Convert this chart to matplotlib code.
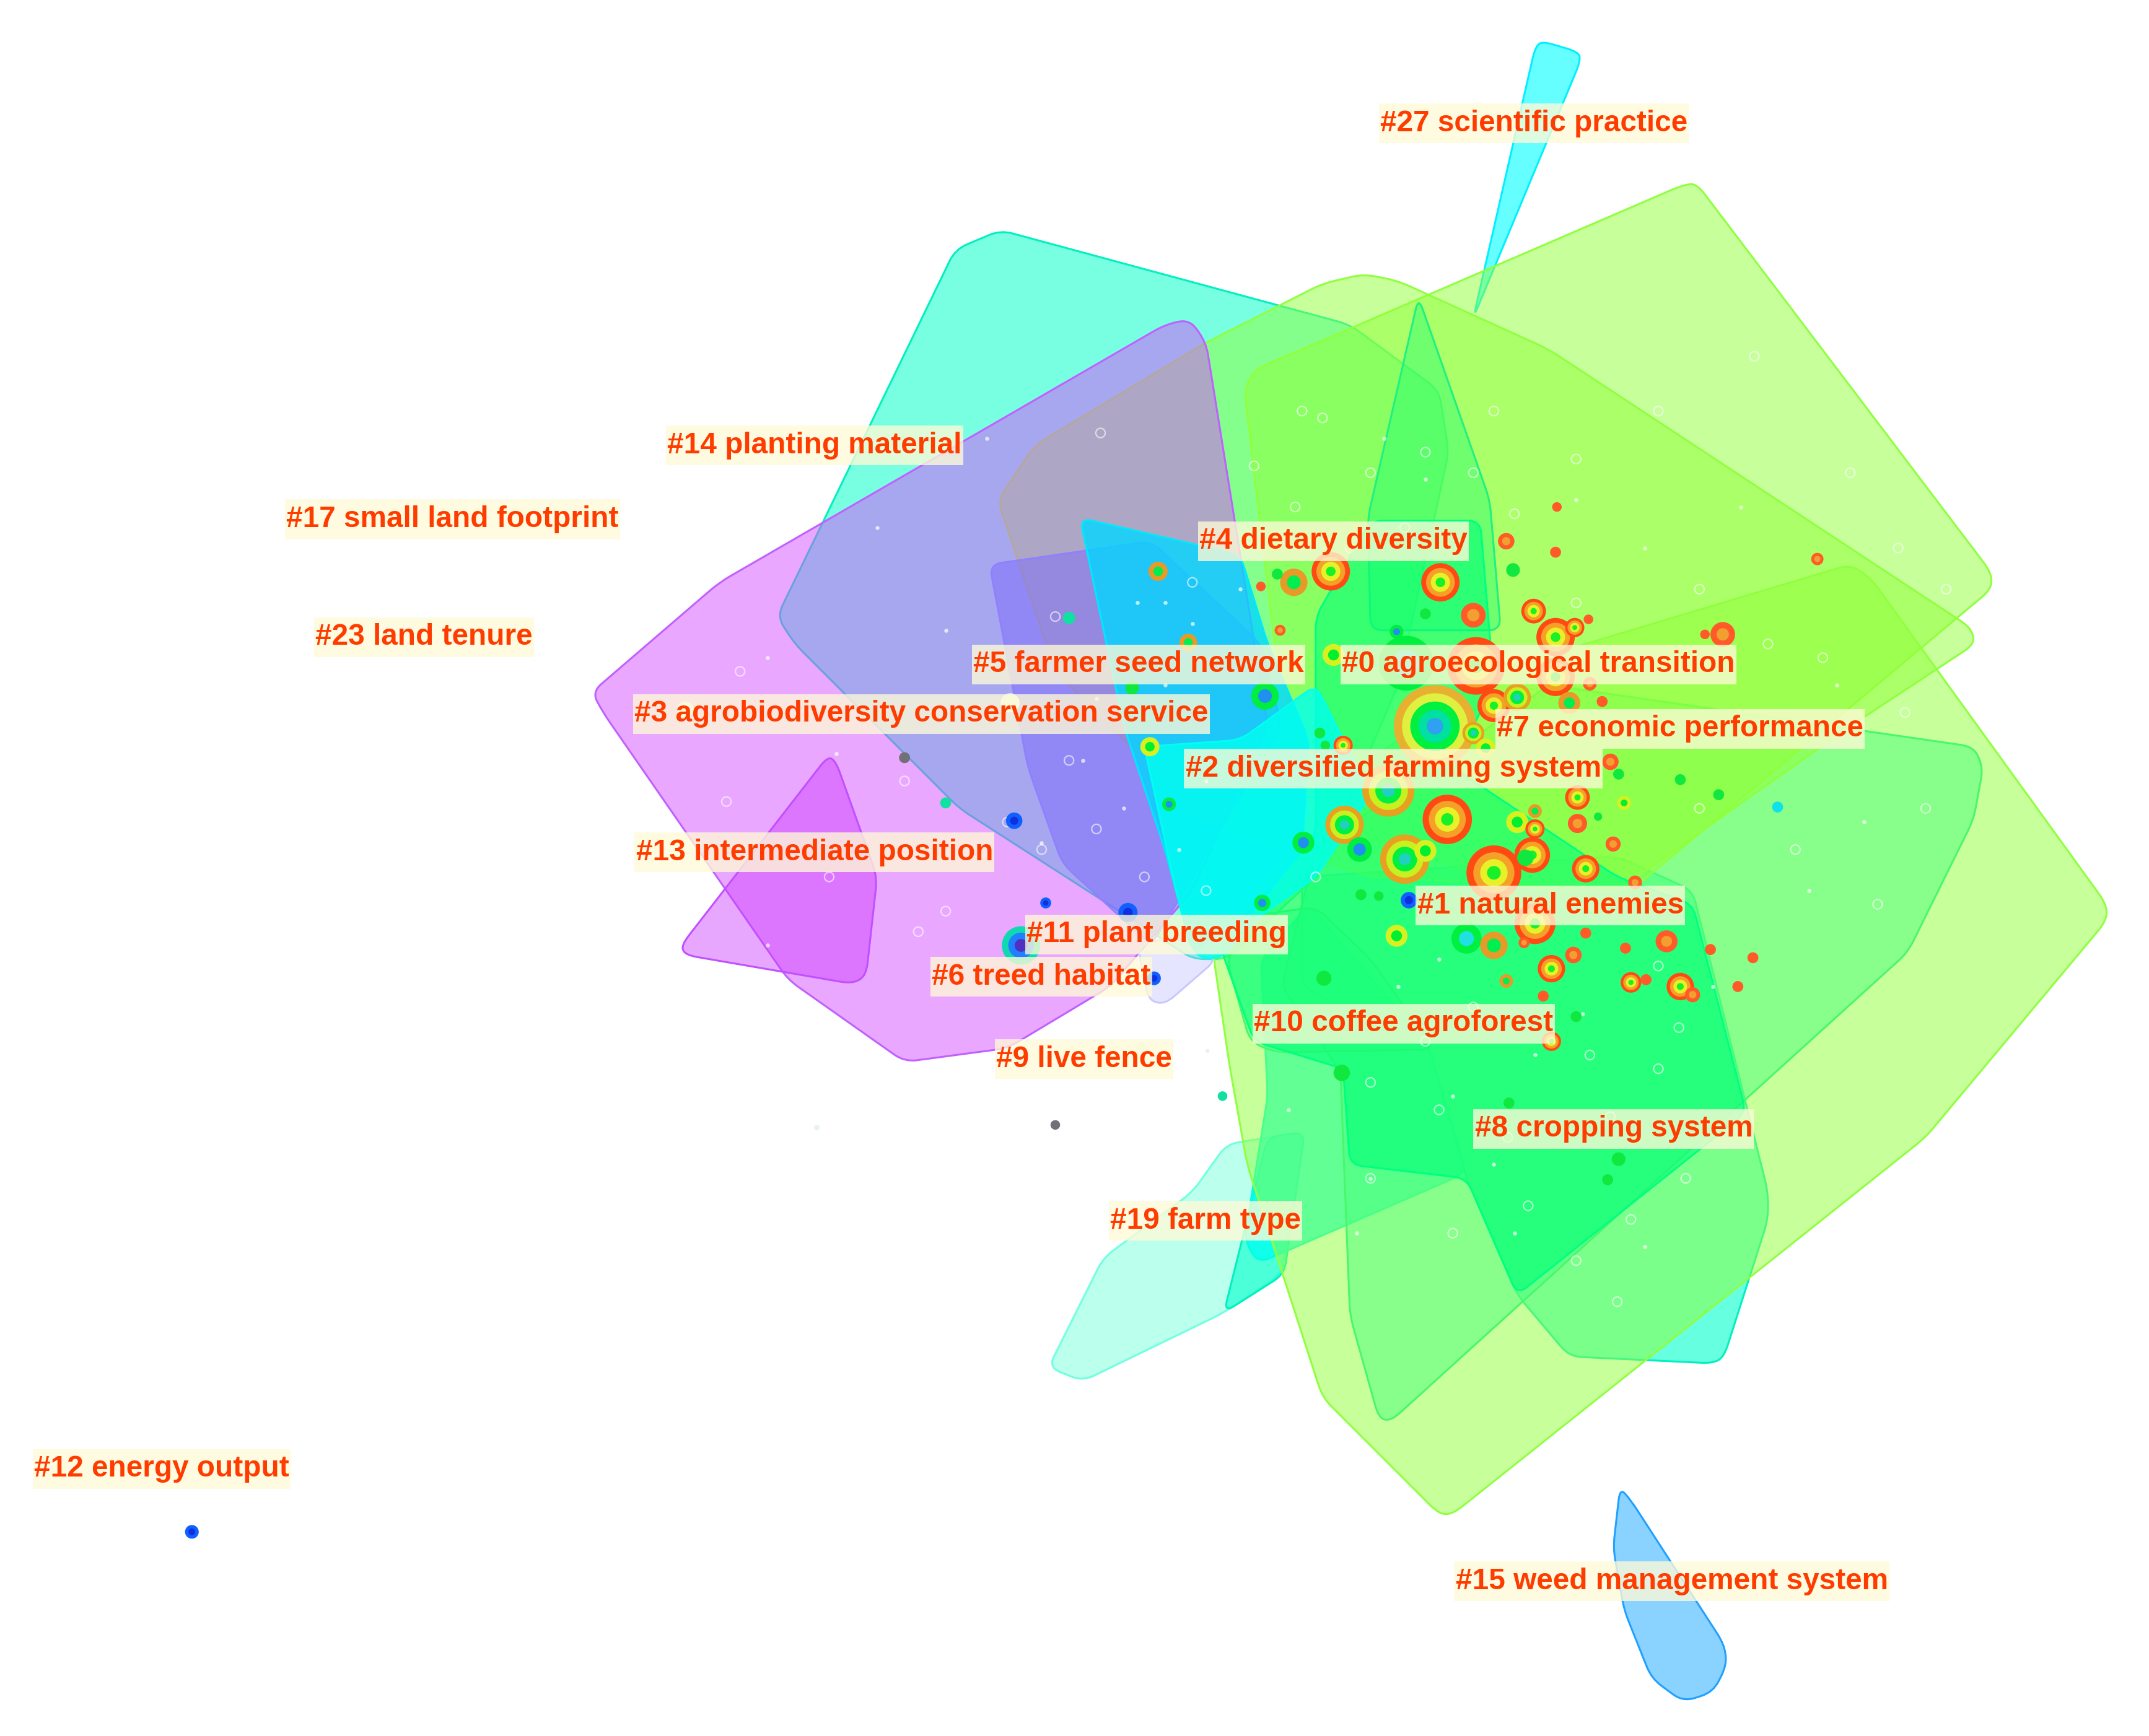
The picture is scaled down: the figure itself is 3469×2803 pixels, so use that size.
import matplotlib
matplotlib.use('Agg')
import matplotlib.pyplot as plt
from matplotlib.patches import Circle, PathPatch, Rectangle
from matplotlib.path import Path
import numpy as np

plt.rcParams['font.family'] = ['Liberation Sans', 'DejaVu Sans']

# cluster hulls (1568 x 1267 view)
teal_top = [(567, 450), (697, 182), (730, 168), (985, 237), (1050, 285), (1057, 330), (1020, 500),
            (960, 640), (895, 700), (870, 700), (840, 680), (700, 590), (580, 470)]
teal_low = [(950, 640), (1180, 625), (1235, 650), (1290, 870), (1290, 890), (1258, 990), (1250, 995),
            (1145, 990), (1107, 945), (1070, 860), (1043, 765), (950, 720)]
green_right = [(1130, 500), (1440, 545), (1447, 560), (1440, 598), (1392, 695), (1015, 1037), (1006, 1035),
               (985, 960), (978, 782), (935, 720), (960, 620)]
green_low = [(915, 668), (960, 662), (1000, 700), (1047, 766), (930, 768), (912, 760), (895, 700)]
green_left = [(955, 660), (1043, 765), (1070, 856), (918, 922), (908, 905), (925, 800), (920, 700)]
farm_light = [(765, 998), (790, 1008), (893, 958), (935, 930), (952, 826), (895, 835), (870, 870), (805, 918)]
farm_teal = [(893, 958), (937, 930), (952, 826), (925, 830)]
purple = [(432, 505), (440, 520), (575, 715), (660, 775), (735, 765), (810, 720), (870, 650), (925, 530),
          (880, 250), (868, 233), (850, 237), (525, 425)]
purple_small = [(604, 552), (610, 556), (640, 640), (632, 712), (622, 718), (500, 697), (497, 690)]
periwinkle = [(722, 412), (840, 395), (920, 470), (935, 530), (870, 640), (840, 690), (775, 630), (750, 560)]
lavender_low = [(838, 730), (850, 733), (888, 700), (870, 680), (830, 690)]
lime_top = [(1228, 135), (1238, 134), (1453, 418), (1453, 430), (1190, 650), (1120, 650), (960, 600),
            (930, 470), (908, 285), (915, 270)]
lime_mid = [(995, 200), (1020, 205), (1130, 255), (1438, 458), (1441, 470), (1350, 530), (1180, 650),
            (1000, 640), (880, 600), (770, 490), (728, 365), (755, 325), (880, 250), (965, 207)]
lime_big = [(1350, 412), (1365, 422), (1537, 660), (1537, 672), (1405, 830), (1060, 1105), (1050, 1105),
            (965, 1020), (910, 850), (897, 777), (885, 695), (975, 572), (1090, 490)]
spike = [(1035, 217), (1087, 365), (1095, 460), (1000, 460), (998, 378)]
core = [(960, 450), (1000, 380), (1080, 380), (1090, 500), (1060, 560), (1180, 640), (1235, 660),
        (1274, 812), (1107, 945), (1070, 860), (985, 850), (980, 780), (915, 760), (890, 690), (960, 610)]
cyan = [(788, 378), (905, 405), (925, 470), (955, 540), (950, 620), (915, 665), (870, 695), (850, 620), (820, 530)]
cyan_bright = [(835, 545), (905, 540), (960, 500), (1000, 580), (960, 640), (920, 668), (890, 700), (872, 698), (858, 650)]
sci_practice = [(1120, 35), (1125, 30), (1152, 38), (1153, 45), (1075, 232)]
weed = [(1182, 1086), (1190, 1095), (1258, 1200), (1260, 1215), (1250, 1235), (1228, 1242), (1205, 1225),
        (1185, 1175), (1177, 1130)]

hulls = [
    (teal_top, (30, 255, 205), 0.6, '#00f0c0'),
    (teal_low, (0, 255, 203), 0.6, '#00f0c0'),
    (sci_practice, (0, 255, 255), 0.6, '#00f0ff'),
    (farm_light, (60, 255, 205), 0.35, '#70ffe0'),
    (farm_teal, (0, 255, 203), 0.6, '#00f0c0'),
    (green_left, (0, 255, 240), 0.8, '#00ffe0'),
    (green_right, (0, 255, 190), 0.5, '#00f0a0'),
    (green_low, (0, 255, 190), 0.4, '#00f0a0'),
    (lime_top, (145, 255, 57), 0.5, '#90ff40'),
    (lime_mid, (145, 255, 57), 0.5, '#90ff40'),
    (lime_big, (145, 255, 57), 0.5, '#90ff40'),
    (purple, (215, 81, 255), 0.5, '#c060ff'),
    (purple_small, (205, 60, 255), 0.45, '#c050ff'),
    (lavender_low, (190, 190, 255), 0.4, '#c8c8ff'),
    (periwinkle, (120, 100, 255), 0.45, '#9080ff'),
    (spike, (0, 255, 120), 0.35, '#20f080'),
    (core, (0, 255, 120), 0.6, '#00ff80'),
    (cyan, (0, 215, 255), 0.8, '#00e8ff'),
    (cyan_bright, (0, 255, 240), 0.8, '#00fff0'),
    (weed, (60, 180, 255), 0.6, '#20a0ff'),
]

# citation rings, outer to inner
ring_sets = {
    'big': ['#e8b030', '#e0f040', '#00f040', '#00e0a0', '#30a0f0'],
    'rgy': ['#ff4a14', '#f5a028', '#e8f028', '#18f028'],
    'oyg': ['#e8a020', '#c8f020', '#00f040', '#20d0c0'],
    'or': ['#ff5a28', '#f0a030'],
    'red': ['#ff5a28'],
    'org': ['#e89a28', '#00ee50'],
    'yg': ['#d8f020', '#00f030'],
    'gb': ['#00ee40', '#2090f0'],
    'gc': ['#00f040', '#20e0e0'],
    'g': ['#10e840'],
    'b': ['#1060ff', '#1030e0'],
    'bc': ['#10d8b0', '#2080ff', '#5030c0'],
    'teal': ['#10e0a0'],
    'gray': ['#707078'],
    'cy': ['#10e0e8'],
    'pale': ['#e8f4e8'],
}

node_x = [971, 944, 1051, 1099, 1136, 1135, 1104, 1326, 1075, 1119, 1135, 1149, 1159, 1257, 1244, 845, 932, 920, 934,
          973, 1019, 1040, 1026, 867, 923, 826, 839, 1077, 1090, 1107, 1135, 1145, 1169, 1160, 1047, 1075, 1084, 980,
          963, 967, 1013, 1056, 981, 992, 951, 1025, 1040, 1090, 1118, 1113, 1107, 1120, 1120, 1151, 1151, 1175,
          1181, 1185, 1166, 1226, 1254, 1297, 1177, 1157, 1193, 993, 1006, 1028, 921, 1019, 1070, 1090, 1120, 1157,
          1216, 1186, 1248, 1279, 1148, 1132, 1112, 1190, 1201, 1226, 1235, 1268, 1099, 1126, 1150, 1132, 966,
          780, 660, 690, 740, 763, 823, 745, 842, 833, 892, 770, 979, 1101, 1181, 1173, 140, 853, 596, 881, 500, 737]
node_y = [417, 425, 425, 395, 370, 403, 416, 408, 449, 446, 465, 458, 452, 463, 463, 417, 419, 428, 460,
          478, 461, 448, 484, 469, 508, 502, 545, 486, 515, 509, 494, 513, 512, 499, 530, 535, 546, 544,
          535, 544, 577, 598, 602, 620, 615, 627, 621, 637, 624, 626, 600, 592, 605, 582, 601, 556,
          565, 586, 596, 569, 580, 589, 616, 634, 644, 653, 654, 657, 659, 683, 685, 690, 674, 681,
          687, 692, 693, 699, 697, 707, 688, 717, 715, 720, 726, 720, 716, 727, 742, 760, 714,
          451, 553, 586, 599, 659, 666, 690, 714, 766, 800, 821, 783, 805, 846, 861, 1118, 587, 823, 767, 518, 513]
node_r = [14, 10, 14, 6, 3.5, 4, 5, 4.5, 9, 9, 14, 7, 3.5, 9, 3.5, 7, 4, 3.5, 4,
          8, 5, 4, 20, 6.5, 10, 5, 7, 21, 12, 10, 14, 8, 4, 5, 30, 8, 7, 7,
          4, 3.5, 19, 18, 14, 9, 8, 18, 8, 20, 13, 6, 8, 5, 7, 9, 7, 6,
          4, 5, 3, 4, 4, 4, 5.5, 10, 5, 4, 3.5, 6, 6, 8, 11, 10, 15, 4,
          8, 4, 4, 4, 6, 10, 4, 7.5, 4, 10, 5.5, 4, 5, 4, 4, 7, 5.5,
          4.5, 4, 4, 6, 4, 7, 14, 5, 5, 3.5, 3.5, 6, 4, 5, 4, 5, 5, 2, 1.5, 6, 7]
node_kind = ['rgy', 'org', 'rgy', 'or', 'red', 'red', 'g', 'or', 'or', 'rgy', 'rgy', 'rgy', 'red', 'or', 'red', 'org', 'g', 'red', 'or',
             'yg', 'gb', 'g', 'gc', 'org', 'gb', 'g', 'yg', 'rgy', 'rgy', 'oyg', 'rgy', 'org', 'red', 'or', 'big', 'oyg', 'yg', 'rgy',
             'g', 'g', 'oyg', 'rgy', 'oyg', 'gb', 'gb', 'oyg', 'yg', 'rgy', 'rgy', 'g', 'yg', 'org', 'rgy', 'rgy', 'or', 'or',
             'g', 'yg', 'g', 'g', 'g', 'cy', 'or', 'rgy', 'or', 'g', 'g', 'b', 'gb', 'yg', 'gc', 'org', 'rgy', 'red',
             'or', 'red', 'red', 'red', 'or', 'rgy', 'or', 'rgy', 'red', 'rgy', 'or', 'red', 'org', 'red', 'g', 'rgy', 'g',
             'teal', 'gray', 'teal', 'b', 'b', 'b', 'bc', 'b', 'pale', 'teal', 'gray', 'g', 'g', 'g', 'g', 'b', 'gb', 'pale', 'pale', 'pale', 'pale']

# small hollow white nodes spread over the hulls
hollow_x = [803, 950, 1000, 985, 1025, 1075, 1105, 1150, 1210, 1280, 1350, 1385, 1420, 915, 945, 965, 1040, 1090, 1150, 1240,
            1290, 1330, 1390, 1240, 1310, 1370, 1405, 660, 605, 540, 530, 770, 870, 880, 835, 800, 760, 735, 670, 690,
            780, 1000, 1050, 1100, 1160, 1210, 1115, 1060, 1000, 1150, 1190, 1230, 1130, 1075, 1040, 1175, 1225, 960, 1180, 1210]
hollow_y = [316, 300, 345, 400, 385, 345, 375, 335, 300, 260, 345, 400, 430, 340, 370, 305, 330, 300, 440, 430,
            470, 480, 520, 590, 620, 660, 590, 570, 640, 490, 585, 450, 425, 650, 640, 605, 620, 600, 680, 665,
            555, 790, 810, 830, 770, 780, 880, 900, 860, 920, 890, 860, 710, 735, 760, 815, 750, 640, 950, 705]
dot_x = [640, 720, 690, 850, 870, 905, 830, 1010, 1040, 1150, 1200, 1270, 1340, 560, 610, 670, 790, 760, 560, 610,
         1020, 1060, 1120, 1245, 1320, 1360, 1000, 1090, 990, 940, 860, 820, 800, 850, 880, 1200, 1105, 1155, 1250, 1050]
dot_y = [385, 320, 460, 500, 455, 430, 440, 320, 350, 365, 400, 370, 500, 480, 550, 625, 555, 615, 690, 750,
         720, 800, 770, 820, 650, 600, 860, 850, 900, 810, 620, 590, 510, 440, 570, 910, 900, 740, 720, 700]

label_text = ['#27 scientific practice', '#14 planting material', '#17 small land footprint', '#4 dietary diversity',
              '#23 land tenure', '#5 farmer seed network', '#0 agroecological transition',
              '#3 agrobiodiversity conservation service', '#7 economic performance', '#2 diversified farming system',
              '#13 intermediate position', '#1 natural enemies', '#11 plant breeding', '#6 treed habitat',
              '#10 coffee agroforest', '#9 live fence', '#8 cropping system', '#19 farm type', '#12 energy output',
              '#15 weed management system']
label_x = [1007, 487, 209, 875, 230, 710, 979, 463, 1092, 865, 464, 1034, 749, 680, 915, 727, 1076, 810, 25, 1062]
label_y = [90, 325, 379, 395, 465, 485, 485, 521, 532, 561, 622, 661, 682, 713, 747, 773, 824, 891, 1072, 1154]


def rounded_hull(pts, rad=9):
    # corners are cut with a short quadratic curve, like the blobs in the original
    pts = np.array(pts, dtype=float)
    n = len(pts)
    verts, codes = [], []
    for i in range(n):
        p, prev, nxt = pts[i], pts[i - 1], pts[(i + 1) % n]
        a = p + (prev - p) * min(rad / np.linalg.norm(prev - p), 0.45)
        b = p + (nxt - p) * min(rad / np.linalg.norm(nxt - p), 0.45)
        verts += [a, p, b]
        codes += [Path.MOVETO if i == 0 else Path.LINETO, Path.CURVE3, Path.CURVE3]
    verts.append(verts[0])
    codes.append(Path.CLOSEPOLY)
    return Path(verts, codes)


fig = plt.figure(figsize=(34.69, 28.03), dpi=100)
ax = fig.add_axes([0, 0, 1, 1])
ax.set_xlim(0, 1568)
ax.set_ylim(1267, 0)
ax.axis('off')

for pts, rgb, alpha, edge in hulls:
    fill = (rgb[0] / 255, rgb[1] / 255, rgb[2] / 255, alpha)
    ax.add_patch(PathPatch(rounded_hull(pts), facecolor=fill, edgecolor=edge, linewidth=2.2, zorder=2))

ax.scatter(hollow_x, hollow_y, s=120, facecolors='none', edgecolors='white', linewidths=1.6, alpha=0.6, zorder=3)
ax.scatter(dot_x, dot_y, s=22, color='white', alpha=0.7, linewidths=0, zorder=3)

order = sorted(range(len(node_x)), key=lambda i: -node_r[i])
for i in order:
    rings = ring_sets[node_kind[i]]
    for k, col in enumerate(rings):
        r = node_r[i] * (1 - k / len(rings))
        ax.add_patch(Circle((node_x[i], node_y[i]), r, facecolor=col, edgecolor='none', zorder=4))

renderer = fig.canvas.get_renderer()
for txt, x, y in zip(label_text, label_x, label_y):
    t = ax.text(x, y, txt, color='#ff3c00', fontsize=34.4, fontweight='bold', ha='left', va='center', zorder=6)
    # flat box tight in x, taller than the text, as in the original
    bb = t.get_window_extent(renderer).transformed(ax.transData.inverted())
    ax.add_patch(Rectangle((x - 1, y - 14.5), bb.width + 2, 29, facecolor='#fffbd8', alpha=0.78,
                           edgecolor='none', zorder=5))

fig.savefig('out.png', dpi=100)
